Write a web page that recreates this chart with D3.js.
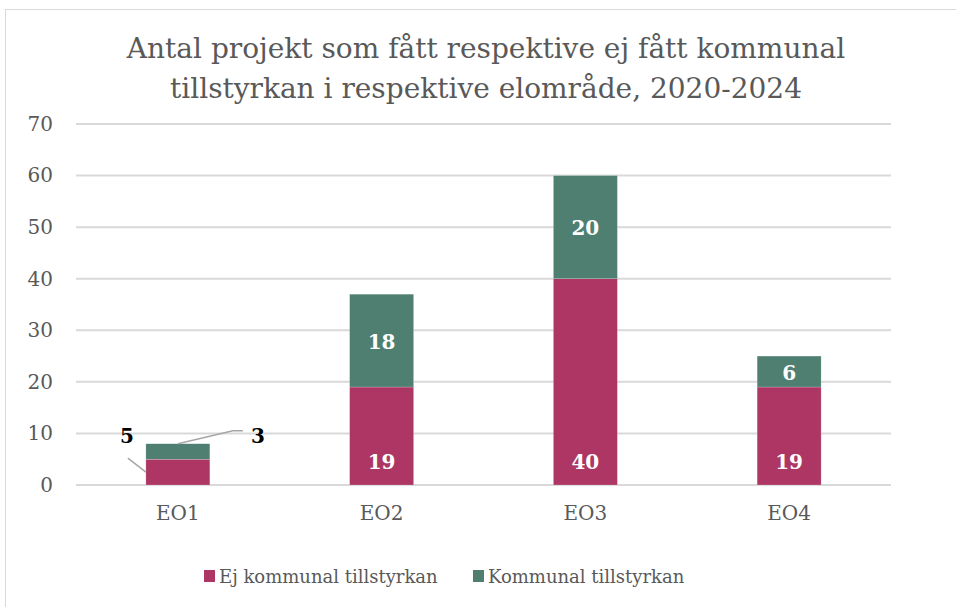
<!DOCTYPE html>
<html>
<head>
<meta charset="utf-8">
<script src="https://cdn.jsdelivr.net/npm/d3@7"></script>
<style>
  body { margin: 0; background: #fff; }
  text { font-family: "DejaVu Serif", "Liberation Serif", serif; }
</style>
</head>
<body>
<div id="chart"></div>
<script>
// Data
var regions = ["EO1", "EO2", "EO3", "EO4"];
var ejTillstyrkan = [5, 19, 40, 19];
var tillstyrkan = [3, 18, 20, 6];
var seriesNames = ["Ej kommunal tillstyrkan", "Kommunal tillstyrkan"];
var yTicks = [0, 10, 20, 30, 40, 50, 60, 70];

var svgWidth = 956;
var svgHeight = 607;

var margin = { top: 124, right: 65, bottom: 122, left: 76 };
var width = svgWidth - margin.left - margin.right;
var height = svgHeight - margin.top - margin.bottom;

var colors = ["#ad3665", "#4e7f71"];
var fontFam = "DejaVu Serif, serif";

var svg = d3.select("#chart")
  .append("svg")
  .attr("width", svgWidth)
  .attr("height", svgHeight);

// chart frame
svg.append("rect")
  .attr("x", 5.5)
  .attr("y", 9.5)
  .attr("width", 970)
  .attr("height", 620)
  .attr("fill", "#fff")
  .attr("stroke", "#d9d9d9");

// Title
var title = svg.append("text")
  .attr("text-anchor", "middle")
  .attr("fill", "#595959")
  .style("font-size", "28px");
title.append("tspan").attr("x", 486).attr("y", 58)
  .text("Antal projekt som fått respektive ej fått kommunal");
title.append("tspan").attr("x", 486).attr("y", 98)
  .text("tillstyrkan i respektive elområde, 2020-2024");

var chartGroup = svg.append("g")
  .attr("transform", `translate(${margin.left}, ${margin.top})`);

// Scales
var xScale = d3.scaleBand()
  .domain(regions)
  .range([0, width])
  .paddingInner(0.686)
  .paddingOuter(0.343);

var yScale = d3.scaleLinear()
  .domain([0, 70])
  .range([height, 0]);

// Gridlines
chartGroup.selectAll(".grid")
  .data(yTicks)
  .enter()
  .append("line")
  .attr("x1", 0)
  .attr("x2", width)
  .attr("y1", d => yScale(d))
  .attr("y2", d => yScale(d))
  .attr("stroke", "#d9d9d9")
  .attr("stroke-width", 2);

// y axis labels
var leftAxis = d3.axisLeft(yScale).tickValues(yTicks).tickSize(0).tickPadding(23);
var yAxisG = chartGroup.append("g").call(leftAxis);
yAxisG.select(".domain").remove();
yAxisG.selectAll("text")
  .attr("fill", "#595959")
  .style("font-size", "20px")
  .style("font-family", fontFam);

// x axis labels
var bottomAxis = d3.axisBottom(xScale).tickSize(0).tickPadding(21);
var xAxisG = chartGroup.append("g")
  .attr("transform", `translate(0, ${height})`)
  .call(bottomAxis);
xAxisG.select(".domain").remove();
xAxisG.selectAll("text")
  .attr("fill", "#595959")
  .style("font-size", "20px")
  .style("font-family", fontFam);

// Stacked data
var tableData = regions.map(function(r, i) {
  return { region: r, ej: ejTillstyrkan[i], kom: tillstyrkan[i] };
});
var stack = d3.stack().keys(["ej", "kom"]);
var stacked = stack(tableData);

var layers = chartGroup.selectAll(".layer")
  .data(stacked)
  .enter()
  .append("g")
  .attr("fill", (d, i) => colors[i]);

layers.selectAll("rect")
  .data(d => d)
  .enter()
  .append("rect")
  .attr("x", d => xScale(d.data.region))
  .attr("y", d => yScale(d[1]))
  .attr("width", xScale.bandwidth())
  .attr("height", d => yScale(d[0]) - yScale(d[1]))
  .attr("stroke", "#fff")
  .attr("stroke-opacity", 0.4)
  .attr("stroke-width", 0.5);

// Value labels inside bars (skip the small EO1 bar)
stacked.forEach(function(layer, li) {
  layer.forEach(function(d) {
    if (d.data.region === "EO1") return;
    var v = d[1] - d[0];
    var yc;
    if (li === 0) yc = yScale(d[0]) - 16;
    else yc = (yScale(d[0]) + yScale(d[1])) / 2 + 8;
    chartGroup.append("text")
      .attr("x", xScale(d.data.region) + xScale.bandwidth() / 2)
      .attr("y", yc)
      .attr("text-anchor", "middle")
      .attr("fill", "#fff")
      .style("font-weight", "bold")
      .style("font-size", "20px")
      .text(v);
  });
});

// EO1 labels with leader lines
var x1 = xScale("EO1");
var bw = xScale.bandwidth();
var e1 = tableData[0];
var yMid = yScale(e1.ej / 2);
chartGroup.append("path")
  .attr("d", `M${x1},${yMid} L${x1 - 18},${yMid - 14}`)
  .attr("stroke", "#a6a6a6").attr("fill", "none").attr("stroke-width", 1.5);
chartGroup.append("text")
  .attr("x", x1 - 19).attr("y", yMid - 29)
  .attr("text-anchor", "middle")
  .attr("fill", "#000")
  .style("font-weight", "bold")
  .style("font-size", "20px")
  .text(e1.ej);
var yTop = yScale(e1.ej + e1.kom);
chartGroup.append("path")
  .attr("d", `M${x1 + bw / 2},${yTop} L${x1 + bw + 23},${yTop - 13} L${x1 + bw + 33},${yTop - 13}`)
  .attr("stroke", "#a6a6a6").attr("fill", "none").attr("stroke-width", 1.5);
chartGroup.append("text")
  .attr("x", x1 + bw + 48).attr("y", yTop - 1)
  .attr("text-anchor", "middle")
  .attr("fill", "#000")
  .style("font-weight", "bold")
  .style("font-size", "20px")
  .text(e1.kom);

// Legend
var legend = svg.append("g").attr("transform", "translate(0, 583)");
var legendX = [204, 473];
seriesNames.forEach(function(name, i) {
  legend.append("rect")
    .attr("x", legendX[i])
    .attr("y", -13)
    .attr("width", 11)
    .attr("height", 12)
    .attr("fill", colors[i]);
  legend.append("text")
    .attr("x", legendX[i] + 15)
    .attr("y", 0)
    .attr("fill", "#595959")
    .style("font-size", "18px")
    .text(name);
});
</script>
</body>
</html>
